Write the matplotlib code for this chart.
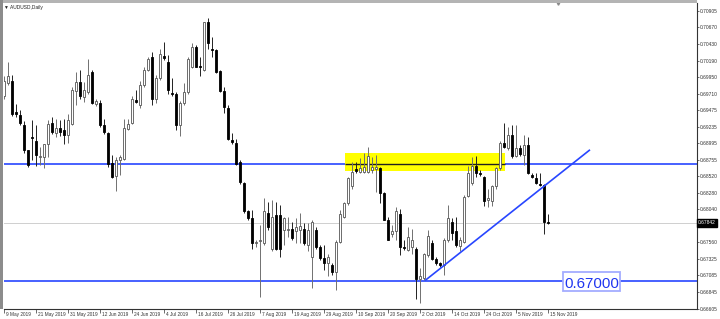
import numpy as np
import matplotlib.pyplot as plt
import matplotlib.transforms as mtransforms
from matplotlib.patches import Rectangle

# AUDUSD daily candles, 9 May 2019 .. 15 Nov 2019
opens = [0.6968, 0.6986, 0.6990, 0.6944, 0.6940, 0.6926, 0.6889, 0.6909, 0.6903, 0.6879,
         0.6880, 0.6898, 0.6928, 0.6914, 0.6921, 0.6918, 0.6911, 0.6927, 0.6975, 0.6988,
         0.6966, 0.6974, 0.7003, 0.6956, 0.6958, 0.6926, 0.6914, 0.6871, 0.6852, 0.6875,
         0.6876, 0.6920, 0.6928, 0.6962, 0.6955, 0.6984, 0.7006, 0.7024, 0.6964, 0.6993,
         0.7025, 0.7017, 0.6972, 0.6970, 0.6926, 0.6958, 0.6974, 0.7010, 0.7038, 0.7011,
         0.7006, 0.7074, 0.7036, 0.7034, 0.7004, 0.6975, 0.6950, 0.6904, 0.6900, 0.6873,
         0.6842, 0.6801, 0.6791, 0.6755, 0.6758, 0.6755, 0.6799, 0.6746, 0.6796, 0.6796,
         0.6774, 0.6774, 0.6776, 0.6772, 0.6774, 0.6776, 0.6752, 0.6735, 0.6774, 0.6750,
         0.6733, 0.6727, 0.6723, 0.6714, 0.6757, 0.6793, 0.6813, 0.6837, 0.6862, 0.6858,
         0.6858, 0.6858, 0.6861, 0.6862, 0.6863, 0.6827, 0.6789, 0.6768, 0.6772, 0.6797,
         0.6750, 0.6745, 0.6749, 0.6747, 0.6703, 0.6704, 0.6738, 0.6755, 0.6732, 0.6726,
         0.6723, 0.6760, 0.6786, 0.6772, 0.6751, 0.6757, 0.6823, 0.6842, 0.6866, 0.6857,
         0.6850, 0.6817, 0.6816, 0.6837, 0.6863, 0.6900, 0.6892, 0.6911, 0.6881, 0.6892,
         0.6882, 0.6897, 0.6853, 0.6849, 0.6841, 0.6839, 0.6785]
highs = [0.6996, 0.7017, 0.6998, 0.6956, 0.6947, 0.6931, 0.6890, 0.6933, 0.6926, 0.6894,
         0.6899, 0.6933, 0.6938, 0.6935, 0.6933, 0.6935, 0.6942, 0.6981, 0.7003, 0.7006,
         0.6988, 0.7021, 0.7005, 0.6964, 0.6962, 0.6935, 0.6915, 0.6882, 0.6880, 0.6882,
         0.6935, 0.6935, 0.6967, 0.6976, 0.6990, 0.7009, 0.7024, 0.7032, 0.6998, 0.7035,
         0.7046, 0.7027, 0.6993, 0.6974, 0.6961, 0.6987, 0.7024, 0.7044, 0.7041, 0.7024,
         0.7075, 0.7081, 0.7053, 0.7036, 0.7006, 0.6981, 0.6955, 0.6914, 0.6906, 0.6875,
         0.6844, 0.6803, 0.6803, 0.6760, 0.6781, 0.6820, 0.6815, 0.6817, 0.6815, 0.6810,
         0.6793, 0.6793, 0.6786, 0.6791, 0.6798, 0.6784, 0.6784, 0.6788, 0.6779, 0.6752,
         0.6752, 0.6740, 0.6727, 0.6760, 0.6803, 0.6815, 0.6851, 0.6873, 0.6873, 0.6878,
         0.6886, 0.6894, 0.6880, 0.6882, 0.6865, 0.6829, 0.6793, 0.6781, 0.6808, 0.6805,
         0.6760, 0.6779, 0.6776, 0.6749, 0.6719, 0.6741, 0.6774, 0.6760, 0.6735, 0.6728,
         0.6762, 0.6810, 0.6791, 0.6793, 0.6764, 0.6825, 0.6866, 0.6880, 0.6881, 0.6861,
         0.6852, 0.6834, 0.6839, 0.6865, 0.6902, 0.6928, 0.6923, 0.6926, 0.6926, 0.6897,
         0.6911, 0.6909, 0.6856, 0.6856, 0.6856, 0.6841, 0.6797]
lows = [0.6963, 0.6984, 0.6939, 0.6937, 0.6926, 0.6886, 0.6865, 0.6875, 0.6866, 0.6868,
        0.6863, 0.6880, 0.6913, 0.6909, 0.6910, 0.6899, 0.6900, 0.6926, 0.6955, 0.6963,
        0.6959, 0.6971, 0.6956, 0.6953, 0.6923, 0.6913, 0.6865, 0.6849, 0.6831, 0.6853,
        0.6875, 0.6918, 0.6927, 0.6958, 0.6950, 0.6981, 0.7004, 0.6955, 0.6957, 0.6991,
        0.7020, 0.6971, 0.6968, 0.6919, 0.6910, 0.6955, 0.6971, 0.7008, 0.7009, 0.6996,
        0.7004, 0.7036, 0.7024, 0.7001, 0.6974, 0.6943, 0.6904, 0.6899, 0.6868, 0.6841,
        0.6798, 0.6788, 0.6746, 0.6750, 0.6677, 0.6752, 0.6774, 0.6744, 0.6745, 0.6735,
        0.6752, 0.6764, 0.6760, 0.6755, 0.6755, 0.6752, 0.6743, 0.6690, 0.6747, 0.6731,
        0.6716, 0.6707, 0.6709, 0.6687, 0.6755, 0.6791, 0.6810, 0.6834, 0.6856, 0.6856,
        0.6857, 0.6856, 0.6856, 0.6829, 0.6813, 0.6788, 0.6760, 0.6764, 0.6760, 0.6738,
        0.6745, 0.6743, 0.6740, 0.6674, 0.6669, 0.6702, 0.6735, 0.6730, 0.6723, 0.6721,
        0.6709, 0.6757, 0.6760, 0.6750, 0.6743, 0.6755, 0.6822, 0.6839, 0.6851, 0.6852,
        0.6809, 0.6808, 0.6809, 0.6834, 0.6861, 0.6893, 0.6890, 0.6878, 0.6880, 0.6881,
        0.6868, 0.6855, 0.6849, 0.6841, 0.6838, 0.6768, 0.6783]
closes = [0.6990, 0.6997, 0.6942, 0.6941, 0.6928, 0.6890, 0.6868, 0.6907, 0.6882, 0.6881,
          0.6898, 0.6927, 0.6916, 0.6921, 0.6916, 0.6911, 0.6933, 0.6976, 0.6988, 0.6968,
          0.6976, 0.6998, 0.6958, 0.6961, 0.6926, 0.6915, 0.6869, 0.6851, 0.6875, 0.6880,
          0.6922, 0.6927, 0.6963, 0.6959, 0.6984, 0.7006, 0.7021, 0.6963, 0.6993, 0.7028,
          0.7022, 0.6977, 0.6970, 0.6926, 0.6958, 0.6974, 0.7021, 0.7038, 0.7010, 0.7009,
          0.7074, 0.7044, 0.7034, 0.7003, 0.6975, 0.6952, 0.6906, 0.6901, 0.6870, 0.6844,
          0.6801, 0.6791, 0.6755, 0.6757, 0.6760, 0.6801, 0.6779, 0.6793, 0.6747, 0.6746,
          0.6791, 0.6776, 0.6762, 0.6779, 0.6780, 0.6755, 0.6774, 0.6786, 0.6750, 0.6733,
          0.6726, 0.6735, 0.6714, 0.6757, 0.6797, 0.6813, 0.6849, 0.6858, 0.6860, 0.6863,
          0.6865, 0.6881, 0.6865, 0.6865, 0.6828, 0.6789, 0.6760, 0.6773, 0.6801, 0.6750,
          0.6748, 0.6764, 0.6760, 0.6703, 0.6707, 0.6739, 0.6765, 0.6732, 0.6727, 0.6723,
          0.6760, 0.6792, 0.6770, 0.6752, 0.6759, 0.6822, 0.6856, 0.6866, 0.6856, 0.6855,
          0.6816, 0.6820, 0.6837, 0.6863, 0.6900, 0.6894, 0.6911, 0.6881, 0.6892, 0.6884,
          0.6897, 0.6857, 0.6851, 0.6842, 0.6839, 0.6786, 0.6784]

date_pos = [0, 8, 16, 24, 32, 40, 48, 56, 64, 72, 80, 88, 96, 104, 112, 120, 128, 136]
date_labels = ["9 May 2019", "21 May 2019", "31 May 2019", "12 Jun 2019", "24 Jun 2019",
               "4 Jul 2019", "16 Jul 2019", "26 Jul 2019", "7 Aug 2019", "19 Aug 2019",
               "29 Aug 2019", "10 Sep 2019", "20 Sep 2019", "2 Oct 2019", "14 Oct 2019",
               "24 Oct 2019", "5 Nov 2019", "15 Nov 2019"]
# 0.67800 sits under the last-price tag, so it is left out
price_ticks = [0.70905, 0.70670, 0.70430, 0.70190, 0.69950, 0.69710, 0.69475, 0.69235,
               0.68995, 0.68755, 0.68520, 0.68280, 0.68040, 0.67560, 0.67325,
               0.67085, 0.66845, 0.66605]

# drawn objects
resistance = 0.6870
support = 0.6700
last_price = 0.67842
zone_x = [85.25, 125.25]
zone_y = [0.6859, 0.6885]
trend_x = [105.25, 146.5]
trend_y = [0.6701, 0.6890]

o = np.array(opens)
h = np.array(highs)
l = np.array(lows)
c = np.array(closes)
x = np.arange(len(o))
up = c >= o

fig = plt.figure(figsize=(7.2, 3.19), dpi=100)
ax = fig.add_axes([3.5 / 720, 1 - 309 / 319, 693.5 / 720, 306 / 319])
ax.set_xlim(-0.125, 173.25)
ax.set_ylim(0.66599, 0.71021)

blue = '#2846ff'

# last price line
ax.axhline(last_price, color='#cfcfcf', lw=0.7, zorder=1)

# levels
ax.axhline(resistance, color=blue, lw=1.2, zorder=1.5)
ax.axhline(support, color=blue, lw=1.2, zorder=1.5)

# yellow zone
ax.add_patch(Rectangle((zone_x[0], zone_y[0]), zone_x[1] - zone_x[0], zone_y[1] - zone_y[0],
                       facecolor='#ffff00', edgecolor='none', zorder=2))
ax.hlines(resistance, zone_x[0], zone_x[1], color='#202020', lw=1.0, zorder=2.5)

# candles
body_w = 0.7
ax.vlines(x[up], l[up], h[up], color='#707070', lw=0.7, zorder=3)
ax.vlines(x[~up], l[~up], h[~up], color='#222222', lw=0.7, zorder=3)
bottom = np.minimum(o, c)
height = np.maximum(np.abs(c - o), 0.00006)
ax.bar(x[up], height[up], body_w, bottom[up], facecolor='white',
       edgecolor='#555555', linewidth=0.6, zorder=4)
ax.bar(x[~up], height[~up], body_w, bottom[~up], facecolor='black',
       edgecolor='black', linewidth=0.6, zorder=4)

# trend line
ax.plot(trend_x, trend_y, color=blue, lw=1.2, zorder=5, solid_capstyle='butt')

# 0.67000 label
ax.add_patch(Rectangle((139.75, 0.66859), 14.25, 0.00275, facecolor='white',
                       edgecolor='#a4acff', lw=1.3, zorder=6))
ax.text(146.9, 0.66905, "0.67000", ha='center', va='baseline', fontsize=10.8,
        family='Liberation Sans', color='#1f35f0', zorder=7)

# axes styling
for s in ['top', 'left']:
    ax.spines[s].set_visible(False)
for s in ['right', 'bottom']:
    ax.spines[s].set_color('#333333')
    ax.spines[s].set_linewidth(0.8)

ax.yaxis.tick_right()
ax.set_yticks(price_ticks)
ax.set_yticklabels([f"{v:.5f}" for v in price_ticks])
ax.tick_params(axis='y', length=1.5, width=0.5, pad=0.8, labelsize=3.5,
               colors='#333333', labelfontfamily='Liberation Sans')
ax.set_xticks(date_pos)
ax.set_xticklabels(date_labels)
ax.tick_params(axis='x', length=3, width=0.5, pad=-0.8, labelsize=3.4,
               colors='#333333', labelfontfamily='Liberation Sans')
shift = mtransforms.ScaledTranslation(1.5 / 100, 0, fig.dpi_scale_trans)
for lab in ax.get_xticklabels():
    lab.set_ha('left')
    lab.set_transform(lab.get_transform() + shift)

# current price tag on the scale
ax.text(1.0015, last_price, f"{last_price:.5f}", transform=ax.get_yaxis_transform(),
        ha='left', va='center', fontsize=3.5, family='Liberation Sans', color='white',
        bbox=dict(boxstyle='square,pad=0.25', fc='black', ec='black'), zorder=10, clip_on=False)

# shift marker at top
ax.plot([138.5], [0.71021], marker='v', color='#8a8a8a', markersize=2.5, clip_on=False, zorder=10)

# window frame
fig.patches.append(Rectangle((0, 1 - 3 / 319), 697 / 720, 3 / 319, transform=fig.transFigure,
                             facecolor='#b4b4b4', edgecolor='none'))
fig.patches.append(Rectangle((0, 1 - 309 / 319), 3 / 720, 309 / 319, transform=fig.transFigure,
                             facecolor='#8c8c8c', edgecolor='none'))

fig.text(4 / 720, 1 - 7 / 319, "\u25bc AUDUSD,Daily", fontsize=3.5, family='Liberation Sans',
         color='#222222', va='center', ha='left')

fig.savefig("out.png", dpi=100)
